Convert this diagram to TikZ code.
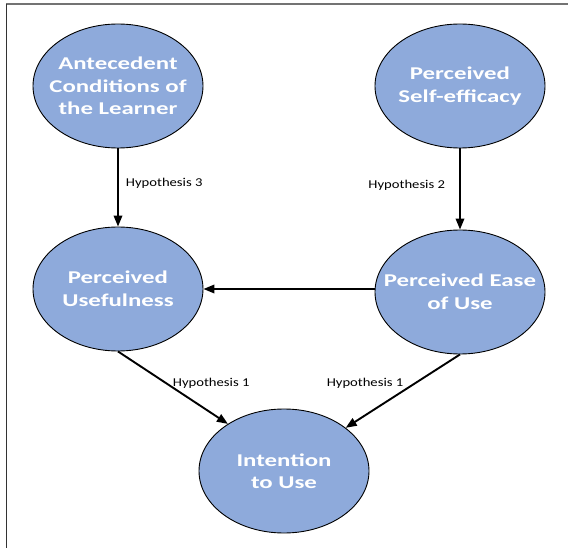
\documentclass[tikz,border=0pt]{standalone}
\usepackage{fontspec}
\usepackage{tikz}
\usetikzlibrary{arrows.meta,shapes.geometric,positioning}
\newfontfamily\constructfont{Carlito}[FakeStretch=1.38]
\newfontfamily\hypfont{Carlito}[FakeStretch=1.22]
\definecolor{constructcol}{RGB}{142,170,219}

\begin{document}
\begin{tikzpicture}[x=1pt,y=-1pt,
  construct/.style={ellipse,draw=black,line width=0.9pt,fill=constructcol,text=white,
    inner xsep=-30pt,inner ysep=-10pt,minimum width=170pt,minimum height=124pt,align=center,
    font=\constructfont\bfseries\fontsize{18}{22.5}\selectfont},
  hyp/.style={font=\hypfont\fontsize{12}{14}\selectfont,inner sep=2pt},
  link/.style={line width=1.9pt,-{Triangle[length=11pt,width=8.5pt]}}]
\useasboundingbox (0,0) rectangle (568,548);
% frame
\draw[black!55,line width=1.5pt] (6,4) -- (568,4);
\draw[black!80,line width=0.8pt] (6,4) -- (6,548);
% constructs
\node[construct] (ante) at (118,86) {Antecedent\\Conditions of\\the Learner};
\node[construct] (self) at (460,86) {Perceived\\Self-efficacy};
\node[construct] (useful) at (118,289) {Perceived\\Usefulness};
\node[construct] (ease) at (460,292) {Perceived Ease\\of Use};
\node[construct] (intent) at (284,471) {Intention\\to Use};
% hypotheses
\draw[link] (ante) -- node[hyp,right=5pt,pos=0.45] (h3) {Hypothesis 3} (useful);
\draw[link] (self) -- node[hyp,left=12pt,pos=0.45] (h2) {Hypothesis 2} (ease);
\draw[link] (ease.west |- useful.east) -- (useful.east);
\draw[link] (useful.south) -- node[hyp,pos=0.4,anchor=west,xshift=8pt,yshift=-3pt] (h1a) {Hypothesis 1} (intent.140);
\draw[link] (ease.south) -- node[hyp,pos=0.4,anchor=east,xshift=-8pt] (h1b) {Hypothesis 1} (intent.35);
\end{tikzpicture}
\end{document}
